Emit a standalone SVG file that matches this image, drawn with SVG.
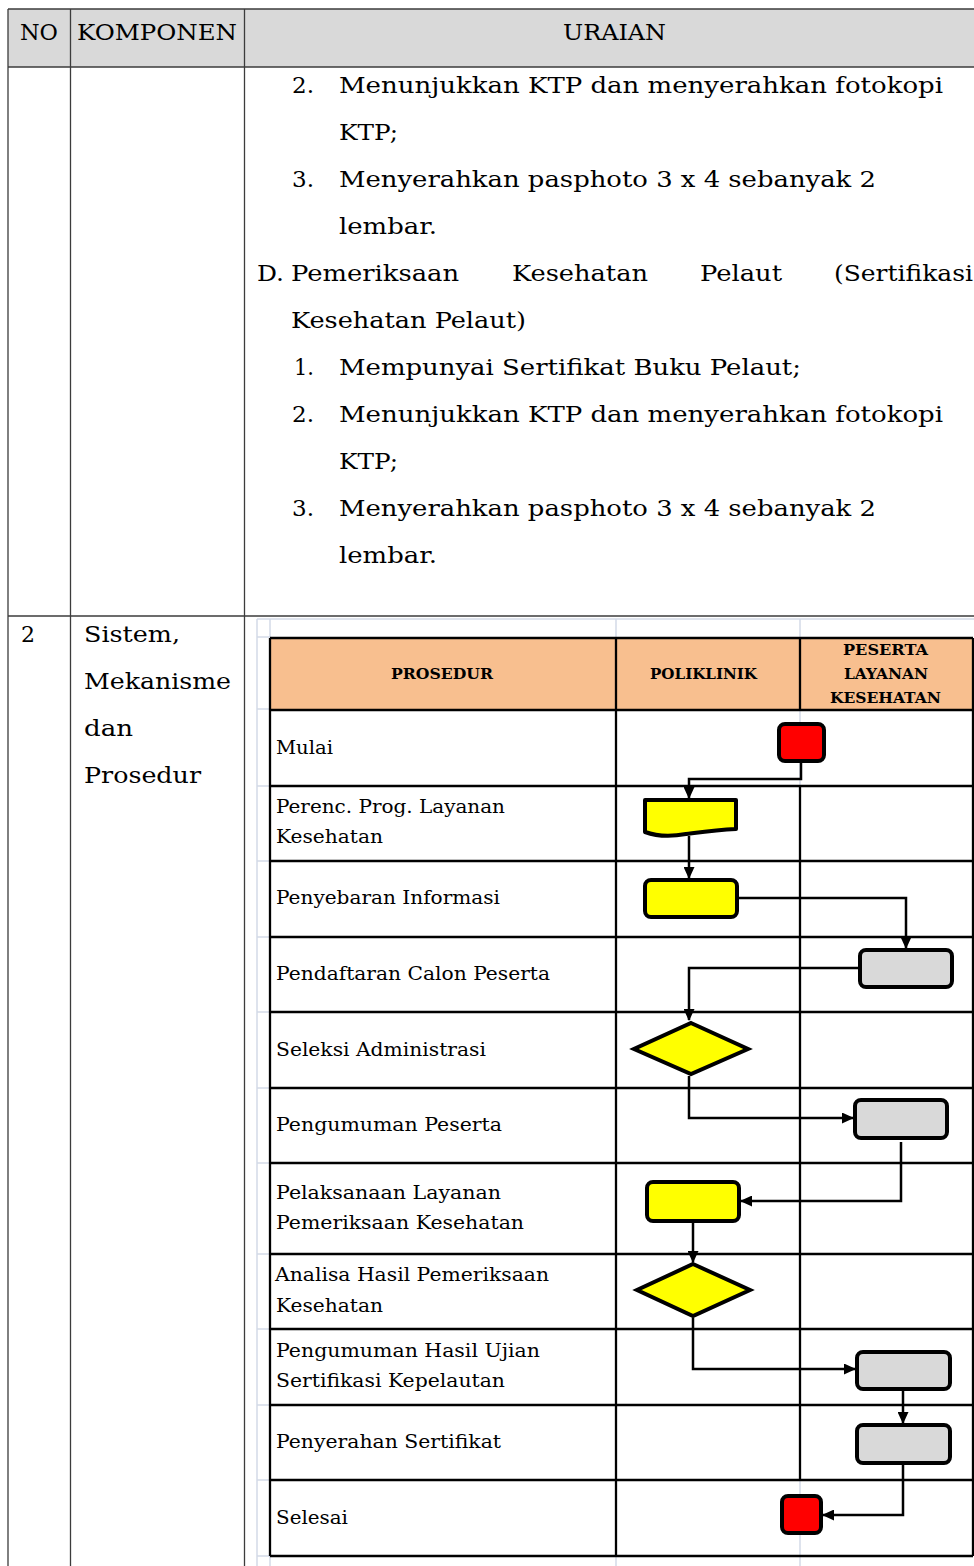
<svg xmlns="http://www.w3.org/2000/svg" width="974" height="1566" viewBox="0 0 974 1566">
<defs>
<style>
.tl{stroke:#3c3c3c;stroke-width:1.3;fill:none}
.gr{stroke:#d3dae7;stroke-width:1.5;fill:none}
.fl{stroke:#000;stroke-width:2.3;fill:none}
.sh{stroke:#000;stroke-width:4;stroke-linejoin:round}
.dm{stroke:#000;stroke-width:4;stroke-linejoin:miter;fill:#ffff00}
.y{fill:#ffff00}.g{fill:#d9d9d9}.r{fill:#ff0000}
.cn{stroke:#000;stroke-width:2.5;fill:none;marker-end:url(#ah)}
.t{font-family:"DejaVu Serif","Liberation Serif",serif;font-size:22px;fill:#000}
.lb{font-family:"DejaVu Serif","Liberation Serif",serif;font-size:19px;fill:#000}
.hd{font-family:"DejaVu Serif","Liberation Serif",serif;font-size:15.5px;font-weight:bold;fill:#000}
</style>
<marker id="ah" markerUnits="userSpaceOnUse" markerWidth="12" markerHeight="11" refX="11" refY="5.5" orient="auto" viewBox="0 0 12 11"><path d="M0,0 L12,5.5 L0,11 z" fill="#000"/></marker>
</defs>
<rect x="0" y="0" width="974" height="1566" fill="#fff"/>

<g id="outer-table">
<rect x="8" y="9" width="966" height="58" fill="#d9d9d9"/>
<path class="tl" d="M8,9 H974 M8,67 H974 M8,616 H974 M8,9 V1566 M70.5,9 V1566 M244.5,9 V1566"/>
<text class="t" x="20" y="40" textLength="38" lengthAdjust="spacingAndGlyphs">NO</text>
<text class="t" x="77" y="40" textLength="160" lengthAdjust="spacingAndGlyphs">KOMPONEN</text>
<text class="t" x="563" y="40" textLength="103" lengthAdjust="spacingAndGlyphs">URAIAN</text>
</g>

<g id="uraian-text">
<text class="t" x="292" y="93" textLength="22" lengthAdjust="spacingAndGlyphs">2.</text>
<text class="t" x="339" y="93" textLength="604" lengthAdjust="spacingAndGlyphs">Menunjukkan KTP dan menyerahkan fotokopi</text>
<text class="t" x="339" y="140" textLength="59" lengthAdjust="spacingAndGlyphs">KTP;</text>
<text class="t" x="292" y="187" textLength="22" lengthAdjust="spacingAndGlyphs">3.</text>
<text class="t" x="339" y="187" textLength="537" lengthAdjust="spacingAndGlyphs">Menyerahkan pasphoto 3 x 4 sebanyak 2</text>
<text class="t" x="339" y="234" textLength="98" lengthAdjust="spacingAndGlyphs">lembar.</text>
<text class="t" x="257" y="281" textLength="27" lengthAdjust="spacingAndGlyphs">D.</text>
<text class="t" x="291" y="281" textLength="168" lengthAdjust="spacingAndGlyphs">Pemeriksaan</text>
<text class="t" x="512" y="281" textLength="136" lengthAdjust="spacingAndGlyphs">Kesehatan</text>
<text class="t" x="700" y="281" textLength="82" lengthAdjust="spacingAndGlyphs">Pelaut</text>
<text class="t" x="834" y="281" textLength="139" lengthAdjust="spacingAndGlyphs">(Sertifikasi</text>
<text class="t" x="291" y="328" textLength="235" lengthAdjust="spacingAndGlyphs">Kesehatan Pelaut)</text>
<text class="t" x="294" y="375" textLength="20" lengthAdjust="spacingAndGlyphs">1.</text>
<text class="t" x="339" y="375" textLength="462" lengthAdjust="spacingAndGlyphs">Mempunyai Sertifikat Buku Pelaut;</text>
<text class="t" x="292" y="422" textLength="22" lengthAdjust="spacingAndGlyphs">2.</text>
<text class="t" x="339" y="422" textLength="604" lengthAdjust="spacingAndGlyphs">Menunjukkan KTP dan menyerahkan fotokopi</text>
<text class="t" x="339" y="469" textLength="59" lengthAdjust="spacingAndGlyphs">KTP;</text>
<text class="t" x="292" y="516" textLength="22" lengthAdjust="spacingAndGlyphs">3.</text>
<text class="t" x="339" y="516" textLength="537" lengthAdjust="spacingAndGlyphs">Menyerahkan pasphoto 3 x 4 sebanyak 2</text>
<text class="t" x="339" y="563" textLength="98" lengthAdjust="spacingAndGlyphs">lembar.</text>
</g>

<g id="row2-text">
<text class="t" x="21" y="642">2</text>
<text class="t" x="84" y="642" textLength="96" lengthAdjust="spacingAndGlyphs">Sistem,</text>
<text class="t" x="84" y="689" textLength="147" lengthAdjust="spacingAndGlyphs">Mekanisme</text>
<text class="t" x="84" y="736" textLength="49" lengthAdjust="spacingAndGlyphs">dan</text>
<text class="t" x="84" y="783" textLength="117" lengthAdjust="spacingAndGlyphs">Prosedur</text>
</g>

<g id="gridlines">
<path class="gr" d="M257,619 H974 M257,619 V1566 M270,619 V638 M616,619 V638 M800,619 V638 M800,710 V786 M800,1480 V1556 M270,1556 V1566 M616,1556 V1566 M800,1556 V1566 M257,637 H270 M257,709 H270 M257,786 H270 M257,861 H270 M257,937 H270 M257,1012 H270 M257,1088 H270 M257,1163 H270 M257,1254 H270 M257,1329 H270 M257,1405 H270 M257,1480 H270 M257,1556 H270"/>
</g>

<g id="swimlane-table">
<rect x="270" y="638" width="703" height="72" fill="#f8bf8f"/>
<path class="fl" d="M270,638 H973 M270,710 H973 M270,786 H973 M270,861 H973 M270,937 H973 M270,1012 H973 M270,1088 H973 M270,1163 H973 M270,1254 H973 M270,1329 H973 M270,1405 H973 M270,1480 H973 M270,1556 H973 M270,638 V1556 M616,638 V1556 M973,638 V1556 M800,638 V710 M800,786 V1480"/>
<text class="hd" x="391" y="679" textLength="102" lengthAdjust="spacingAndGlyphs">PROSEDUR</text>
<text class="hd" x="650" y="679" textLength="107" lengthAdjust="spacingAndGlyphs">POLIKLINIK</text>
<text class="hd" x="843" y="655" textLength="85" lengthAdjust="spacingAndGlyphs">PESERTA</text>
<text class="hd" x="844" y="679" textLength="84" lengthAdjust="spacingAndGlyphs">LAYANAN</text>
<text class="hd" x="830" y="703" textLength="111" lengthAdjust="spacingAndGlyphs">KESEHATAN</text>
</g>

<g id="row-labels">
<text class="lb" x="276" y="754" textLength="57" lengthAdjust="spacingAndGlyphs">Mulai</text>
<text class="lb" x="276" y="813" textLength="229" lengthAdjust="spacingAndGlyphs">Perenc. Prog. Layanan</text>
<text class="lb" x="276" y="843" textLength="107" lengthAdjust="spacingAndGlyphs">Kesehatan</text>
<text class="lb" x="276" y="904" textLength="224" lengthAdjust="spacingAndGlyphs">Penyebaran Informasi</text>
<text class="lb" x="276" y="980" textLength="274" lengthAdjust="spacingAndGlyphs">Pendaftaran Calon Peserta</text>
<text class="lb" x="276" y="1056" textLength="210" lengthAdjust="spacingAndGlyphs">Seleksi Administrasi</text>
<text class="lb" x="276" y="1131" textLength="226" lengthAdjust="spacingAndGlyphs">Pengumuman Peserta</text>
<text class="lb" x="276" y="1199" textLength="225" lengthAdjust="spacingAndGlyphs">Pelaksanaan Layanan</text>
<text class="lb" x="276" y="1229" textLength="248" lengthAdjust="spacingAndGlyphs">Pemeriksaan Kesehatan</text>
<text class="lb" x="275" y="1281" textLength="274" lengthAdjust="spacingAndGlyphs">Analisa Hasil Pemeriksaan</text>
<text class="lb" x="276" y="1312" textLength="107" lengthAdjust="spacingAndGlyphs">Kesehatan</text>
<text class="lb" x="276" y="1357" textLength="264" lengthAdjust="spacingAndGlyphs">Pengumuman Hasil Ujian</text>
<text class="lb" x="276" y="1387" textLength="229" lengthAdjust="spacingAndGlyphs">Sertifikasi Kepelautan</text>
<text class="lb" x="276" y="1448" textLength="225" lengthAdjust="spacingAndGlyphs">Penyerahan Sertifikat</text>
<text class="lb" x="276" y="1524" textLength="72" lengthAdjust="spacingAndGlyphs">Selesai</text>
</g>

<g id="connectors">
<path class="cn" d="M801,763 V779 H689 V798"/>
<path class="cn" d="M689,836 V878"/>
<path class="cn" d="M739,898 H906 V948"/>
<path class="cn" d="M858,968 H689 V1020"/>
<path class="cn" d="M689,1076 V1118 H853"/>
<path class="cn" d="M901,1142 V1201 H741"/>
<path class="cn" d="M693,1223 V1262"/>
<path class="cn" d="M693,1318 V1369 H855"/>
<path class="cn" d="M903,1391 V1423"/>
<path class="cn" d="M903,1465 V1515 H823"/>
</g>

<g id="node-mulai"><rect class="sh r" x="779" y="724" width="45" height="37" rx="6"/></g>
<g id="node-perencanaan"><path class="sh y" d="M645,800 H736 V829 C716,830 702,832 686,834 C670,837 656,836 645,832 Z"/></g>
<g id="node-penyebaran"><rect class="sh y" x="645" y="880" width="92" height="37" rx="6"/></g>
<g id="node-pendaftaran"><rect class="sh g" x="860" y="950" width="92" height="37" rx="6"/></g>
<g id="node-seleksi"><polygon class="dm" points="691,1023 748,1049 691,1074 634,1049"/></g>
<g id="node-pengumuman"><rect class="sh g" x="855" y="1100" width="92" height="38" rx="6"/></g>
<g id="node-pelaksanaan"><rect class="sh y" x="647" y="1182" width="92" height="39" rx="6"/></g>
<g id="node-analisa"><polygon class="dm" points="693,1264 750,1290 693,1316 637,1290"/></g>
<g id="node-pengumuman-hasil"><rect class="sh g" x="857" y="1352" width="93" height="37" rx="6"/></g>
<g id="node-penyerahan"><rect class="sh g" x="857" y="1425" width="93" height="38" rx="6"/></g>
<g id="node-selesai"><rect class="sh r" x="782" y="1496" width="39" height="37" rx="6"/></g>
</svg>
